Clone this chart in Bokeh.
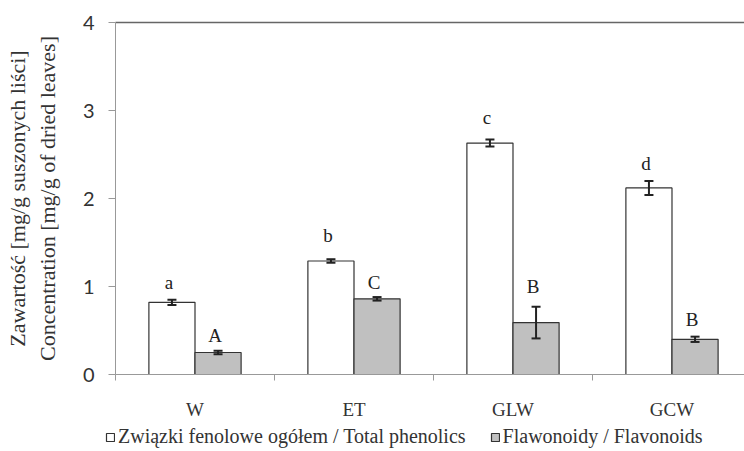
import numpy as np
from bokeh.plotting import figure
from bokeh.models import (ColumnDataSource, Range1d, FixedTicker, LinearAxis, Whisker, TeeHead,
                          Legend, LegendItem)
from bokeh.transform import dodge
from bokeh.core.properties import value
from bokeh.embed import file_html
from bokeh.resources import INLINE

categories = ["W", "ET", "GLW", "GCW"]
phenolics = [0.82, 1.29, 2.63, 2.12]
phenolics_err = [0.03, 0.02, 0.04, 0.08]
flavonoids = [0.25, 0.86, 0.59, 0.40]
flavonoids_err = [0.02, 0.02, 0.18, 0.03]
phen_letters = ["a", "b", "c", "d"]
phen_letter_y = [1.04, 1.58, 2.92, 2.40]
flav_letters = ["A", "C", "B", "B"]
flav_letter_y = [0.44, 1.045, 1.0, 0.62]
y_ticks = [0, 1, 2, 3, 4]
y_max = 4
series_names = ["Związki fenolowe ogółem / Total phenolics", "Flawonoidy / Flavonoids"]
y_label = "Zawartość [mg/g suszonych liści]\nConcentration [mg/g of dried leaves]"

idx = np.arange(len(categories)) + 0.5
BW = 0.29
X_END = 3.956

src = ColumnDataSource(dict(
    x=idx, phen=phenolics, flav=flavonoids,
    phen_up=np.array(phenolics) + np.array(phenolics_err),
    phen_lo=np.array(phenolics) - np.array(phenolics_err),
    flav_up=np.array(flavonoids) + np.array(flavonoids_err),
    flav_lo=np.array(flavonoids) - np.array(flavonoids_err),
    pl=phen_letters, ply=phen_letter_y, fl=flav_letters, fly=flav_letter_y,
))

# frame covers the whole canvas; axes are pinned at x=0 / y=0 / y=4
p = figure(width=744, height=451, output_backend="svg", toolbar_location=None,
           x_range=Range1d(-115 / 159, X_END), y_range=Range1d(-77 / 88, 4 + 22 / 88),
           min_border=0, min_border_left=0, min_border_right=0, min_border_top=0,
           min_border_bottom=0)
p.grid.visible = False
p.outline_line_color = None
p.background_fill_color = "white"
p.border_fill_color = "white"

r1 = p.vbar(x=dodge("x", -BW / 2), top="phen", width=BW, source=src,
            fill_color="white", line_color="#333333", line_width=1.2)
r2 = p.vbar(x=dodge("x", BW / 2), top="flav", width=BW, source=src,
            fill_color="#c0c0c0", line_color="#333333", line_width=1.2)

for up, lo, off in (("phen_up", "phen_lo", -BW / 2), ("flav_up", "flav_lo", BW / 2)):
    w = Whisker(source=src, base=dodge("x", off), upper=up, lower=lo, level="overlay",
                line_color="#222222", line_width=2,
                upper_head=TeeHead(size=9, line_color="#222222", line_width=2),
                lower_head=TeeHead(size=9, line_color="#222222", line_width=2))
    p.add_layout(w)

for txt, yy, off in (("pl", "ply", -BW / 2), ("fl", "fly", BW / 2)):
    p.text(x=dodge("x", off), y=yy, text=txt, source=src, text_align="center",
           text_baseline="middle", text_font=value("Liberation Serif"),
           text_font_size="19px", text_color="#222222", x_offset=-3)

# x axis
xa = p.xaxis[0]
xa.fixed_location = 0
xa.bounds = (0, X_END)
xa.ticker = FixedTicker(ticks=list(idx), minor_ticks=list(range(len(categories) + 1)))
xa.major_label_overrides = {float(v): c for v, c in zip(idx, categories)}
xa.major_tick_line_color = None
xa.minor_tick_out = 6
xa.minor_tick_in = 0
xa.minor_tick_line_color = "#999999"
xa.axis_line_color = "#999999"
xa.major_label_text_font = "Liberation Serif"
xa.major_label_text_font_size = "19px"
xa.major_label_text_color = "#333333"
xa.major_label_standoff = 18

ya = p.yaxis[0]
ya.fixed_location = 0
ya.bounds = (0, y_max)
ya.ticker = FixedTicker(ticks=y_ticks, minor_ticks=[])
ya.major_tick_out = 7
ya.major_tick_in = 0
ya.major_tick_line_color = "#999999"
ya.axis_line_color = "#999999"
ya.major_label_text_font = "Lato"
ya.major_label_text_font_size = "20px"
ya.major_label_text_color = "#333333"
ya.major_label_standoff = 14
ya.axis_label = y_label
ya.axis_label_text_font = "Liberation Serif"
ya.axis_label_text_font_size = "22px"
ya.axis_label_text_font_style = "normal"
ya.axis_label_text_color = "#333333"
ya.axis_label_standoff = 20

top = LinearAxis(ticker=FixedTicker(ticks=[], minor_ticks=[]), axis_line_color="#666666",
                 fixed_location=y_max, bounds=(0, X_END),
                 major_label_text_font_size="0px", major_tick_line_color=None,
                 minor_tick_line_color=None, axis_line_width=1.5)
p.add_layout(top, "above")

legend = Legend(items=[LegendItem(label=series_names[0], renderers=[r1]),
                       LegendItem(label=series_names[1], renderers=[r2])],
                orientation="horizontal", location=(105, 3),
                label_text_font="Liberation Serif", label_text_font_size="20px",
                label_text_color="#333333", glyph_width=10, glyph_height=10,
                label_standoff=3, spacing=24, padding=0, margin=0,
                border_line_color=None, background_fill_alpha=0)
p.add_layout(legend, "center")

open("out.html", "w").write(file_html(p, INLINE))
